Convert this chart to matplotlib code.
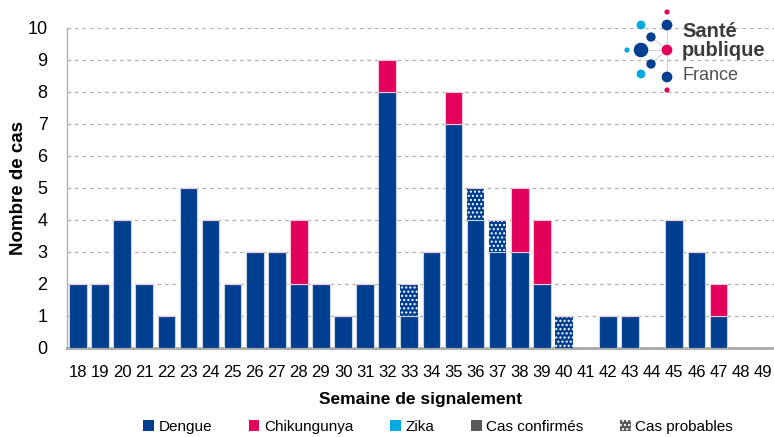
import matplotlib
matplotlib.use("Agg")
import matplotlib.pyplot as plt
from matplotlib.patches import Patch
import numpy as np

plt.rcParams['font.family'] = ['Liberation Sans', 'DejaVu Sans']
plt.rcParams['hatch.linewidth'] = 1.0

weeks = list(range(18, 50))
dengue_conf = [2, 2, 4, 2, 1, 5, 4, 2, 3, 3, 2, 2, 1, 2, 8, 1,
               3, 7, 4, 3, 3, 2, 0, 0, 1, 1, 0, 4, 3, 1, 0, 0]
dengue_prob = [0, 0, 0, 0, 0, 0, 0, 0, 0, 0, 0, 0, 0, 0, 0, 1,
               0, 0, 1, 1, 0, 0, 1, 0, 0, 0, 0, 0, 0, 0, 0, 0]
chik_conf = [0, 0, 0, 0, 0, 0, 0, 0, 0, 0, 2, 0, 0, 0, 1, 0,
             0, 1, 0, 0, 2, 2, 0, 0, 0, 0, 0, 0, 0, 1, 0, 0]

c_dengue = '#003f8f'
c_chik = '#e2005a'
c_zika = '#00a9e0'
c_conf = '#595959'

fig = plt.figure(figsize=(7.74, 4.37), dpi=100)
ax = fig.add_axes([0.0866, 0.204, 0.913, 0.732])

x = np.arange(len(weeks))
d1 = np.array(dengue_conf)
d2 = np.array(dengue_prob)
ch = np.array(chik_conf)
w = 0.8
ax.bar(x, d1, w, color=c_dengue, edgecolor='#c9d2e3', linewidth=0.8, zorder=3)
ax.bar(x, d2, w, bottom=d1, color=c_dengue, edgecolor='white', linewidth=0,
       hatch='....', zorder=3)
ax.bar(x, ch, w, bottom=d1 + d2, color=c_chik, edgecolor='#f0c8d8', linewidth=0.8, zorder=3)

ax.set_xlim(-0.5, len(weeks) - 0.5)
ax.set_ylim(0, 10)
ax.set_yticks(range(0, 11))
ax.set_xticks(x)
ax.set_xticklabels([str(wk) for wk in weeks])
ax.tick_params(axis='both', length=0, labelsize=12, colors='black')
ax.tick_params(axis='y', labelsize=13, pad=14)
ax.tick_params(axis='x', pad=12)
ax.yaxis.grid(True, linestyle=(0, (3, 3)), color='#b0b0b0', linewidth=0.9, zorder=0)
for s in ['top', 'right']:
    ax.spines[s].set_visible(False)
ax.spines['left'].set_color('#b0b0b0')
ax.spines['left'].set_linewidth(1.0)
ax.spines['bottom'].set_color('#a8a8a8')
ax.spines['bottom'].set_linewidth(2.0)

ax.set_ylabel('Nombre de cas', fontsize=13.5, fontweight='bold', labelpad=0)
ax.set_xlabel('Semaine de signalement', fontsize=12.5, fontweight='bold', labelpad=9)

handles = [Patch(facecolor=c_dengue), Patch(facecolor=c_chik), Patch(facecolor=c_zika),
           Patch(facecolor=c_conf), Patch(facecolor=c_conf, edgecolor='white', hatch='....', linewidth=0)]
labels = ['Dengue', 'Chikungunya', 'Zika', 'Cas confirmés', 'Cas probables']
fig.legend(handles, labels, loc='lower center', bbox_to_anchor=(0.566, -0.025), ncol=5,
           frameon=False, fontsize=11, handlelength=0.7, handleheight=0.7,
           handletextpad=0.3, columnspacing=2.4)

# logo, drawn in figure pixel coordinates
lax = fig.add_axes([0, 0, 1, 1], zorder=5)
lax.set_xlim(0, 774)
lax.set_ylim(437, 0)
lax.axis('off')
lx = [667, 667, 667, 667, 667, 641, 627, 651, 651, 641, 641]
ly = [12, 25, 50, 77, 90, 50, 50, 37, 64, 25, 74]
ls = [14, 60, 60, 60, 14, 110, 14, 45, 45, 40, 40]
lc = ['#e2005a', '#003f8f', '#e2005a', '#003f8f', '#e2005a', '#003f8f', '#00a9e0',
      '#003f8f', '#003f8f', '#00a9e0', '#00a9e0']
lax.plot([641, 667], [50, 50], color='#d0d0d0', lw=0.8, zorder=1)
lax.plot([667, 667], [25, 77], color='#d0d0d0', lw=0.8, zorder=1)
lax.plot([651, 667, 651], [37, 50, 64], color='#d0d0d0', lw=0.8, zorder=1)
lax.scatter(lx, ly, s=ls, c=lc, zorder=2, linewidths=0)
lax.text(682, 41, 'Santé\npublique', fontsize=14.5, fontweight='bold', color='#3c3c3c',
         va='center', ha='left', linespacing=0.95)
lax.text(682, 76, 'France', fontsize=13, color='#505050', va='center', ha='left')

fig.savefig('out.png', dpi=100)
